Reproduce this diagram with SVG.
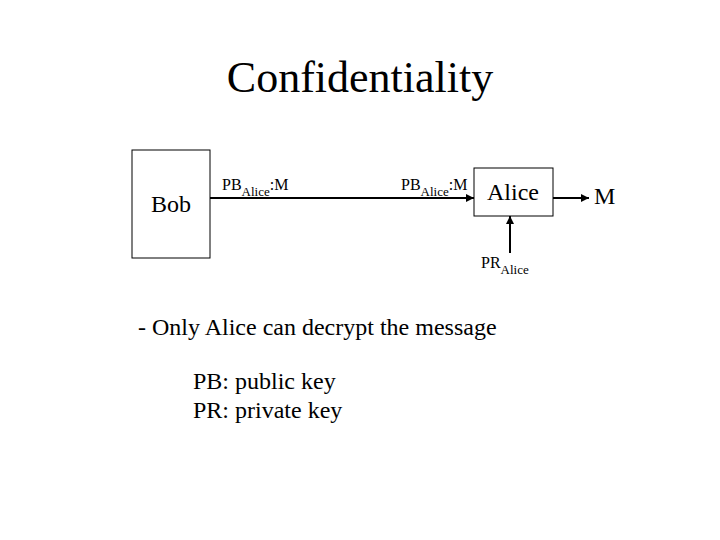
<svg xmlns="http://www.w3.org/2000/svg" width="720" height="540" viewBox="0 0 720 540" font-family="'Liberation Serif', 'Times New Roman', serif">
<style>
text{font-family:'Liberation Serif','Times New Roman',serif;fill:#000}
.box{fill:#fff;stroke:#000;stroke-width:1}
.conn{stroke:#000;stroke-width:2;fill:none}
.lbl{font-size:16px}
.sub{font-size:13px}
.big{font-size:24px}
</style>
<defs>
<marker id="ah" viewBox="0 0 10 10" refX="10" refY="5" markerWidth="4.5" markerHeight="4" orient="auto" markerUnits="strokeWidth">
<path d="M0,0 L10,5 L0,10 z" fill="#000"/>
</marker>
</defs>
<rect width="720" height="540" fill="#fff"/>
<text x="360" y="92" text-anchor="middle" font-size="44" font-family="Liberation Serif, serif">Confidentiality</text>
<g id="bob">
<rect class="box" x="132" y="150" width="78" height="108"/>
<text class="big" x="171" y="212" text-anchor="middle" font-family="Liberation Serif, serif">Bob</text>
</g>
<g id="alice">
<rect class="box" x="474" y="168" width="79" height="48"/>
<text class="big" x="513" y="200" text-anchor="middle" font-family="Liberation Serif, serif">Alice</text>
</g>
<g id="m">
<text class="big" x="594" y="204" font-family="Liberation Serif, serif">M</text>
</g>
<g id="connectors">
<line class="conn" x1="210" y1="198" x2="474" y2="198" marker-end="url(#ah)"/>
<line class="conn" x1="553" y1="198" x2="589" y2="198" marker-end="url(#ah)"/>
<line class="conn" x1="510" y1="253" x2="510" y2="216" marker-end="url(#ah)"/>
</g>
<text class="lbl" x="222" y="190" font-family="Liberation Serif, serif">PB<tspan class="sub" dy="6">Alice</tspan><tspan dy="-6">:M</tspan></text>
<text class="lbl" x="401" y="190" font-family="Liberation Serif, serif">PB<tspan class="sub" dy="6">Alice</tspan><tspan dy="-6">:M</tspan></text>
<text class="lbl" x="481" y="268" font-family="Liberation Serif, serif">PR<tspan class="sub" dy="6">Alice</tspan></text>
<text class="big" x="138" y="335" font-family="Liberation Serif, serif">- Only Alice can decrypt the message</text>
<text class="big" x="193" y="389" font-family="Liberation Serif, serif">PB: public key</text>
<text class="big" x="193" y="418" font-family="Liberation Serif, serif">PR: private key</text>
</svg>
